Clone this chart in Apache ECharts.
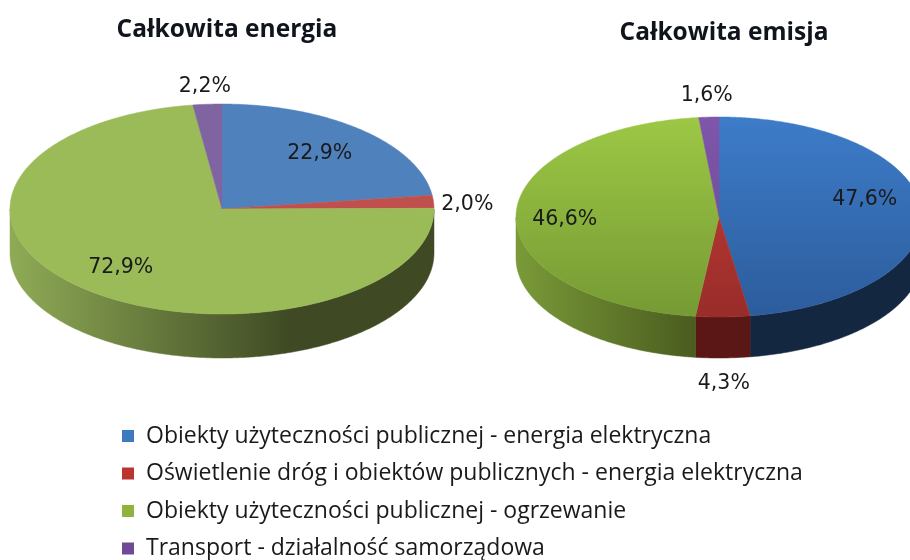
<!DOCTYPE html>
<html>
<head>
<meta charset="utf-8">
<title>Całkowita energia i emisja</title>
<style>
html, body { margin: 0; padding: 0; background: #fff; }
#main { width: 910px; height: 560px; filter: blur(0.5px); }
</style>
<script src="https://cdn.jsdelivr.net/npm/echarts@6/dist/echarts.min.js"></script>
</head>
<body>
<div id="main"></div>
<script>
var categories = [
    'Obiekty użyteczności publicznej - energia elektryczna',
    'Oświetlenie dróg i obiektów publicznych - energia elektryczna',
    'Obiekty użyteczności publicznej - ogrzewanie',
    'Transport - działalność samorządowa'
];
var pieTitles = ['Całkowita energia', 'Całkowita emisja'];
var energyValues = [22.9, 2.0, 72.9, 2.2];
var emissionValues = [47.6, 4.3, 46.6, 1.6];

var legendColors = ['#3d78c0', '#b83531', '#8eb33f', '#6f4a98'];

// the two pies have different shading in the original
var pies = [
    {
        values: energyValues, cx: 222, cy: 209, rx: 212, ry: 105, depth: 44,
        topColors: [['#4f81bd', '#4f81bd'], ['#c0504d', '#c0504d'], ['#9bbb59', '#9bbb59'], ['#8064a2', '#8064a2']],
        wallColors: [['#2a4566', '#2a4566'], ['#6b2b2a', '#6b2b2a'], ['#8fab56', '#3f4a24'], ['#45355a', '#45355a']],
        wallEnd: 290,
        labelRadius: [0.7, 1.16, 0.73, 1.17],
        labelShift: [0, 4, 1, 0]
    },
    {
        values: emissionValues, cx: 719, cy: 217, rx: 203, ry: 100, depth: 41,
        topColors: [['#3d7cc9', '#2c5c9c'], ['#c73e39', '#992c29'], ['#9cc845', '#769a34'], ['#7f56aa', '#6b4790']],
        wallColors: [['#132741', '#132741'], ['#5a1716', '#5a1716'], ['#7a9a38', '#4a5c1f'], ['#45355a', '#45355a']],
        wallEnd: 695,
        labelRadius: [0.72, 1.26, 0.76, 1.21],
        labelShift: [-12, 0, 3, 0]
    }
];

var myChart = echarts.init(document.getElementById('main'));

let rimPoint = function(pie, angle, drop)
{
    return [pie.cx + pie.rx * Math.sin(angle), pie.cy - pie.ry * Math.cos(angle) + drop];
};

let arcPoints = function(pie, from, to, drop)
{
    var points = [];
    var steps = Math.max(2, Math.ceil((to - from) / 0.01));
    for (var s = 0; s <= steps; s++)
    {
        points.push(rimPoint(pie, from + (to - from) * s / steps, drop));
    }
    return points;
};

let gradient = function(x0, y0, x1, y1, colors)
{
    return new echarts.graphic.LinearGradient(x0, y0, x1, y1, [
        { offset: 0, color: colors[0] },
        { offset: 1, color: colors[1] }
    ], true);
};

let sliceRenderer = function(pie, index)
{
    return function()
    {
        var total = pie.values.reduce(function(a, b) { return a + b; }, 0);
        var before = pie.values.slice(0, index).reduce(function(a, b) { return a + b; }, 0);
        var start = before / total * Math.PI * 2;
        var end = (before + pie.values[index]) / total * Math.PI * 2;
        var children = [];

        // front wall, only the part of the rim facing the viewer
        var wallFrom = Math.max(start, Math.PI / 2);
        var wallTo = Math.min(end, Math.PI * 1.5);
        if (wallTo > wallFrom)
        {
            var upper = arcPoints(pie, wallFrom, wallTo, 0);
            var lower = arcPoints(pie, wallFrom, wallTo, pie.depth).reverse();
            var wallFill = gradient(pie.cx - pie.rx, 0, pie.wallEnd, 0, pie.wallColors[index]);
            children.push({
                type: 'polygon',
                shape: { points: upper.concat(lower) },
                style: { fill: wallFill, stroke: wallFill, lineWidth: 0.5 },
                z2: 1
            });
        }

        var topFill = gradient(0, pie.cy - pie.ry, 0, pie.cy + pie.ry, pie.topColors[index]);
        children.push({
            type: 'polygon',
            shape: { points: [[pie.cx, pie.cy]].concat(arcPoints(pie, start, end, 0)) },
            style: { fill: topFill, stroke: topFill, lineWidth: 0.5 },
            z2: 2
        });

        var mid = (start + end) / 2;
        var radius = pie.labelRadius[index];
        var labelDrop = radius > 1 && Math.cos(mid) < 0 ? pie.depth : 0;
        children.push({
            type: 'text',
            x: pie.cx + pie.rx * radius * Math.sin(mid),
            y: pie.cy - pie.ry * radius * Math.cos(mid) + labelDrop + pie.labelShift[index],
            style: {
                text: pie.values[index].toFixed(1).replace('.', ',') + '%',
                fill: '#1a1a1a',
                font: '20.5px "DejaVu Sans"',
                align: 'center',
                verticalAlign: 'middle'
            },
            z2: 10
        });

        return { type: 'group', children: children };
    };
};

var seriesList = [];
pies.forEach(function(pie)
{
    pie.values.forEach(function(value, i)
    {
        seriesList.push({
            type: 'custom',
            name: categories[i],
            coordinateSystem: 'none',
            silent: true,
            animation: false,
            data: [value],
            renderItem: sliceRenderer(pie, i)
        });
    });
});

option =
{
    backgroundColor: '#ffffff',
    animation: false,
    title:
    [
        {
            text: pieTitles[0], left: 222, top: 13, textAlign: 'center',
            textStyle: { color: '#10141c', fontSize: 24.5, fontWeight: 'bold', fontFamily: 'Open Sans' }
        },
        {
            text: pieTitles[1], left: 719, top: 16, textAlign: 'center',
            textStyle: { color: '#10141c', fontSize: 24.5, fontWeight: 'bold', fontFamily: 'Open Sans' }
        }
    ],
    legend:
    {
        orient: 'vertical',
        left: 117,
        top: 417,
        height: 143,
        itemWidth: 12,
        itemHeight: 12,
        itemGap: 9.5,
        icon: 'rect',
        selectedMode: false,
        data: categories.map(function(name, i)
        {
            return { name: name, itemStyle: { color: legendColors[i] } };
        }),
        textStyle: { color: '#1a1a1a', fontSize: 23, fontFamily: 'Open Sans', padding: [0, 0, 0, 7], lineHeight: 28 }
    },
    series: seriesList
};

myChart.setOption(option);
</script>
</body>
</html>
